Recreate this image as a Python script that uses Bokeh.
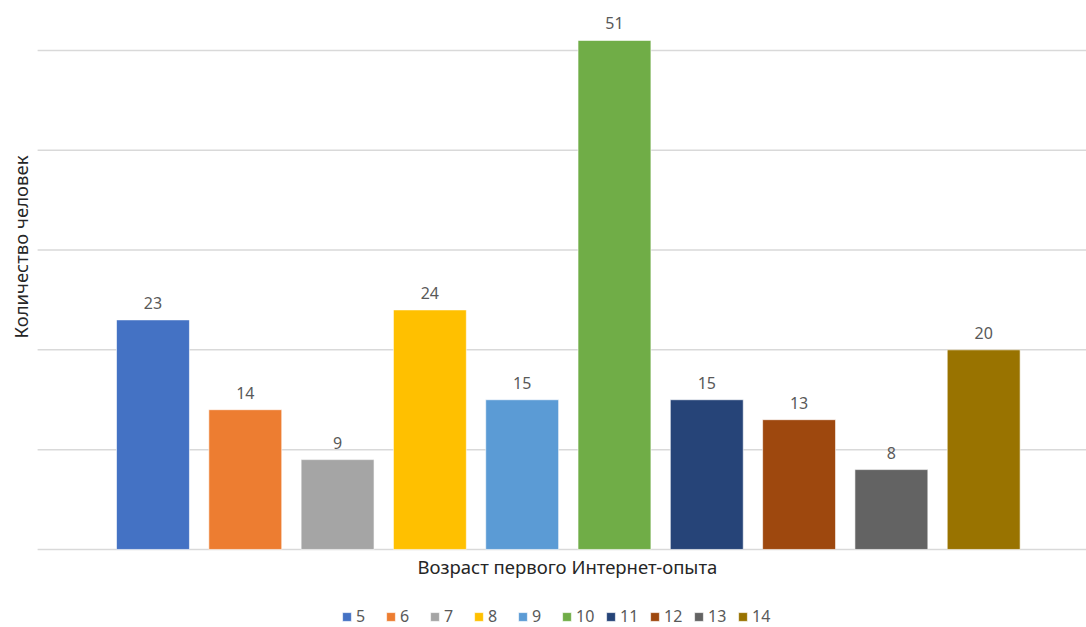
import math
from bokeh.plotting import figure
from bokeh.models import ColumnDataSource, Legend, LegendItem, LabelSet, Label
from bokeh.core.properties import value
from bokeh.embed import file_html
from bokeh.resources import INLINE

ages = ["5", "6", "7", "8", "9", "10", "11", "12", "13", "14"]
counts = [23, 14, 9, 24, 15, 51, 15, 13, 8, 20]
colors = ["#4472C4", "#ED7D31", "#A5A5A5", "#FFC000", "#5B9BD5",
          "#70AD47", "#264478", "#9E480E", "#636363", "#997300"]
grid_values = [0, 10, 20, 30, 40, 50]

FONT = "Noto Sans"

src = ColumnDataSource(dict(
    x=list(range(len(ages))),
    y=counts,
    age=ages,
    color=colors,
    txt=[str(c) for c in counts],
))

X0, X1 = -1.652, 10.114
p = figure(width=1086, height=627, output_backend="svg", toolbar_location=None,
           x_range=(X0, X1), y_range=(-7.82, 55.0),
           min_border_left=0, min_border_right=0, min_border_top=0,
           min_border_bottom=0)
p.outline_line_color = None
p.background_fill_color = "white"
p.xaxis.visible = False
p.yaxis.visible = False
p.grid.visible = False

# horizontal gridlines across the plot area
p.segment(x0=[-1.25] * len(grid_values), x1=[X1] * len(grid_values),
          y0=grid_values, y1=grid_values, line_color="#D9D9D9", line_width=1.5)

r = p.vbar(x="x", top="y", width=0.79, bottom=0, source=src,
           fill_color="color", line_color="white", line_alpha=0.6, line_width=1)

labels = LabelSet(x="x", y="y", text="txt", source=src, y_offset=11,
                  text_align="center", text_baseline="bottom",
                  text_font=value(FONT), text_font_size="16px", text_color="#595959")
p.add_layout(labels)

p.add_layout(Label(x=-1.435, y=30.3, text="Количество человек", angle=math.pi / 2,
                   text_align="center", text_baseline="middle",
                   text_font=FONT, text_font_size="18.5px", text_color="#262626"))
p.add_layout(Label(x=4.49, y=-1.75, text="Возраст первого Интернет-опыта",
                   text_align="center", text_baseline="middle",
                   text_font=FONT, text_font_size="18.5px", text_color="#262626"))

items = [LegendItem(label=a, renderers=[r], index=i) for i, a in enumerate(ages)]
legend = Legend(items=items, orientation="horizontal", location=(341, 0),
                glyph_width=11, glyph_height=11, label_text_font=FONT,
                label_text_font_size="16px", label_text_color="#595959",
                spacing=9, label_standoff=4, padding=0, margin=0,
                label_height=16, border_line_color=None, background_fill_alpha=0)
p.add_layout(legend, "center")

open("out.html", "w").write(file_html(p, INLINE))
